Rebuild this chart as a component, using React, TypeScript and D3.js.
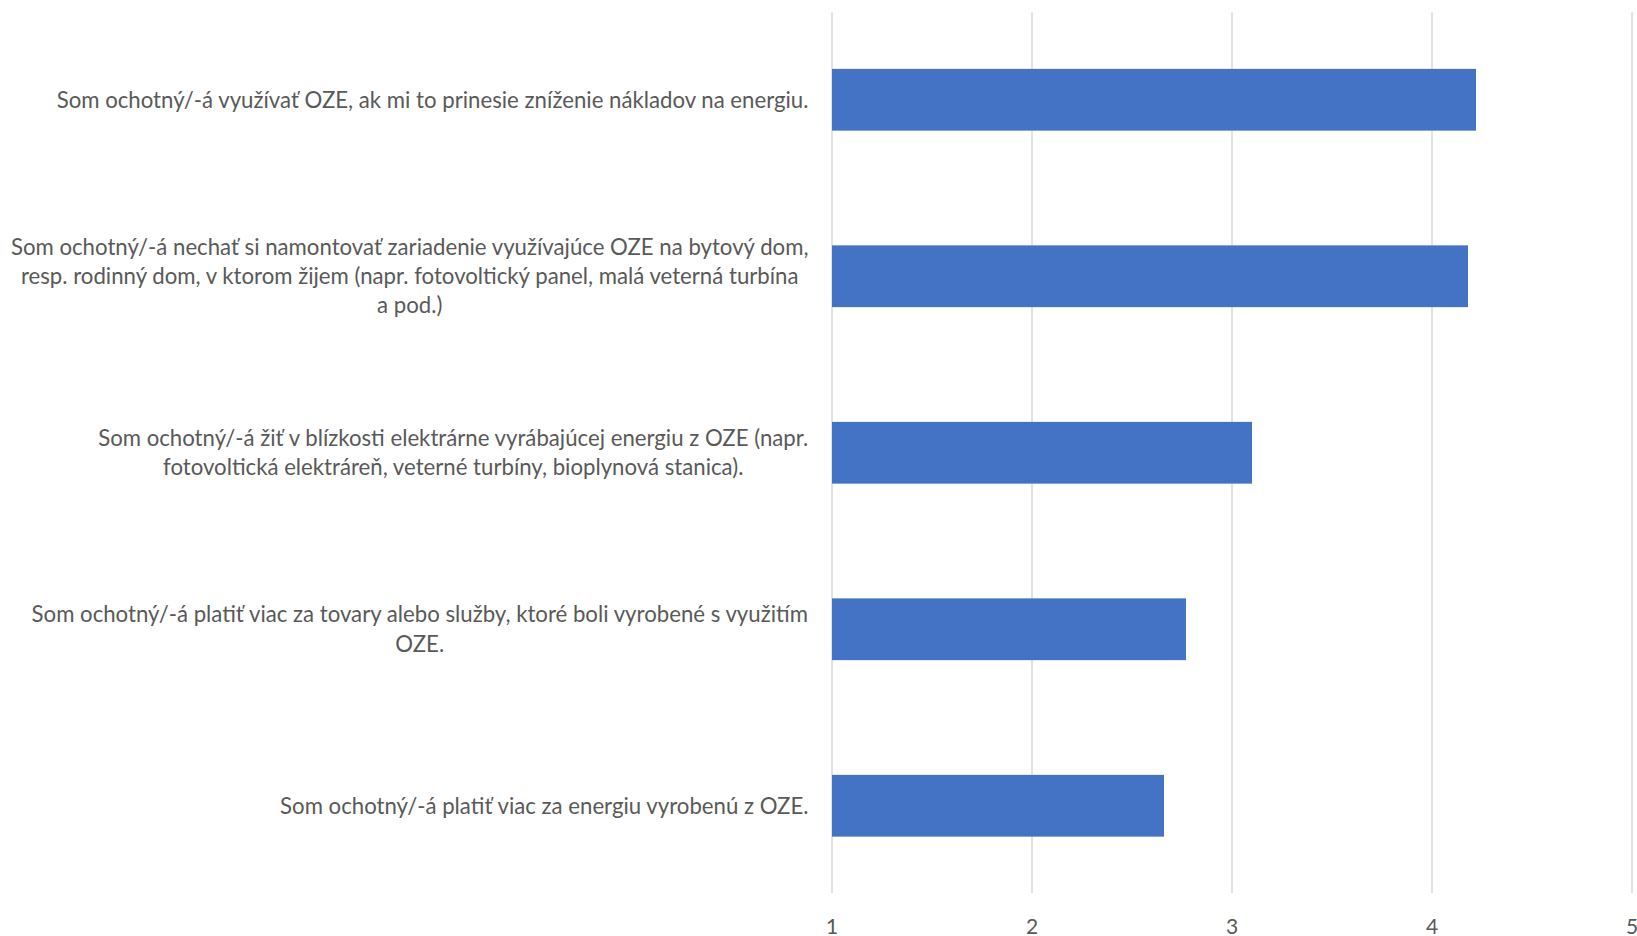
import React from "react";
import * as d3 from "d3";

const categories: string[] = [
  "Som ochotný/-á využívať OZE, ak mi to prinesie zníženie nákladov na energiu.",
  "Som ochotný/-á nechať si namontovať zariadenie využívajúce OZE na bytový dom,\nresp. rodinný dom, v ktorom žijem (napr. fotovoltický panel, malá veterná turbína\na pod.)",
  "Som ochotný/-á žiť v blízkosti elektrárne vyrábajúcej energiu z OZE (napr.\nfotovoltická elektráreň, veterné turbíny, bioplynová stanica).",
  "Som ochotný/-á platiť viac za tovary alebo služby, ktoré boli vyrobené s využitím\nOZE.",
  "Som ochotný/-á platiť viac za energiu vyrobenú z OZE.",
];
const values: number[] = [4.22, 4.18, 3.1, 2.77, 2.66];
const ticks: number[] = [1, 2, 3, 4, 5];

const W = 1637;
const H = 936;
const left = 832;
const right = 1632;
const top = 11.5;
const bottom = 894;
const labelRight = 809;
const labelFontSize = 22.2;
const fontFamily = "Lato, 'Open Sans', sans-serif";

let ctx: CanvasRenderingContext2D | null = null;
function measure(s: string): number {
  if (!ctx) {
    const c = document.createElement("canvas");
    ctx = c.getContext("2d");
  }
  if (!ctx) return s.length * 10;
  ctx.font = `${labelFontSize}px Lato`;
  return ctx.measureText(s).width;
}

export default function App() {
  const x = d3.scaleLinear().domain([1, 5]).range([left, right]);
  const y = d3
    .scaleBand<number>()
    .domain(d3.range(categories.length))
    .range([top, bottom])
    .paddingInner(0.65)
    .paddingOuter(0.325);
  const lineH = 29.2;
  return (
    <svg
      width={W}
      height={H}
      style={{ position: "absolute", left: 0, top: 0, background: "#fff" }}
    >
      {ticks.map((t) => (
        <line
          key={"g" + t}
          x1={x(t)}
          x2={x(t)}
          y1={12.5}
          y2={893}
          stroke="#d9d9d9"
          strokeWidth={1.5}
        />
      ))}
      {values.map((v, i) => (
        <rect
          key={"b" + i}
          x={x(1)}
          y={y(i)!}
          width={x(v) - x(1)}
          height={y.bandwidth()}
          fill="#4472C4"
        />
      ))}
      {categories.map((c, i) => {
        const lines = c.split("\n");
        const blockW = d3.max(lines, (l) => measure(l)) || 0;
        const cx = labelRight - blockW / 2;
        const cy = y(i)! + y.bandwidth() / 2;
        const startY = cy - ((lines.length - 1) * lineH) / 2;
        return (
          <text
            key={"c" + i}
            textAnchor="middle"
            fontFamily={fontFamily}
            fontSize={labelFontSize}
            fill="#595959"
          >
            {lines.map((l, j) => (
              <tspan key={j} x={cx} y={startY + j * lineH} dy="0.35em">
                {l}
              </tspan>
            ))}
          </text>
        );
      })}
      {ticks.map((t) => (
        <text
          key={"t" + t}
          x={x(t)}
          y={927}
          dy="0.35em"
          textAnchor="middle"
          fontFamily={fontFamily}
          fontSize={21}
          fill="#595959"
        >
          {t}
        </text>
      ))}
    </svg>
  );
}
